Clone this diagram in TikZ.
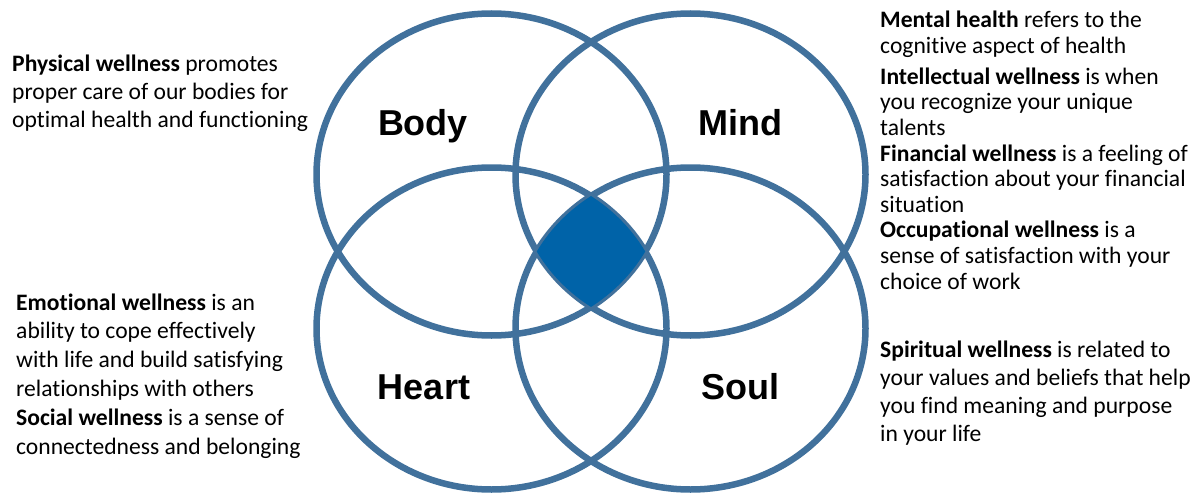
\documentclass[tikz,border=0pt]{standalone}
\usepackage{fontspec}
\setmainfont{Carlito}[Ligatures={NoCommon,NoContextual}]
\newfontfamily\labfont{Liberation Sans}
\definecolor{ring}{RGB}{65,113,156}
\definecolor{core}{RGB}{0,99,168}
\begin{document}
\begin{tikzpicture}[x=1pt,y=-1pt,
  ringline/.style={draw=ring, line width=6.5pt},
  desc/.style={anchor=north west, inner sep=0pt, align=left, text=black},
  lab/.style={anchor=base, inner sep=0pt, text=black, font=\labfont\bfseries\fontsize{36}{40}\selectfont}]
\useasboundingbox (0,0) rectangle (1197,495);
\coordinate (cB) at (491.5,174.5);
\coordinate (cM) at (690.5,174.5);
\coordinate (cH) at (491.5,328.5);
\coordinate (cS) at (690.5,328.5);
% rings
\draw[ringline] (cB) ellipse [x radius=175pt, y radius=161pt];
\draw[ringline] (cM) ellipse [x radius=175pt, y radius=161pt];
\draw[ringline] (cH) ellipse [x radius=175pt, y radius=161pt];
\draw[ringline] (cS) ellipse [x radius=175pt, y radius=161pt];
% centre region
\begin{scope}
  \clip (cB) ellipse [x radius=175pt, y radius=161pt];
  \clip (cM) ellipse [x radius=175pt, y radius=161pt];
  \clip (cH) ellipse [x radius=175pt, y radius=161pt];
  \clip (cS) ellipse [x radius=175pt, y radius=161pt];
  \fill[core] (400,100) rectangle (800,400);
\end{scope}
% labels
\node[lab] (body) at (423,135) {Body};
\node[lab] (mind) at (740,135) {Mind};
\node[lab] (heart) at (424,399) {Heart};
\node[lab] (soul) at (740,399) {Soul};
% descriptions
\node[desc, font=\fontsize{23.6}{28}\selectfont] (phys) at (12,51.4)
  {\strut\textbf{Physical wellness} promotes\\proper care of our bodies for\\optimal health and functioning};
\node[desc, font=\fontsize{23.6}{26}\selectfont] (ment) at (880,8.8)
  {\strut\textbf{Mental health} refers to the\\cognitive aspect of health};
\node[desc, font=\fontsize{23.6}{25.6}\selectfont] (intel) at (880,66.1)
  {\strut\textbf{Intellectual wellness} is when\\you recognize your unique\\talents\\
   \textbf{Financial wellness} is a feeling of\\satisfaction about your financial\\situation\\
   \textbf{Occupational wellness} is a\\sense of satisfaction with your\\choice of work};
\node[desc, font=\fontsize{23.6}{28.8}\selectfont] (emo) at (16,289.8)
  {\strut\textbf{Emotional wellness} is an\\ability to cope effectively\\with life and build satisfying\\relationships with others\\
   \textbf{Social wellness} is a sense of\\connectedness and belonging};
\node[desc, font=\fontsize{23.6}{28}\selectfont] (spir) at (880,337.4)
  {\strut\textbf{Spiritual wellness} is related to\\your values and beliefs that help\\you find meaning and purpose\\in your life};
\end{tikzpicture}
\end{document}
